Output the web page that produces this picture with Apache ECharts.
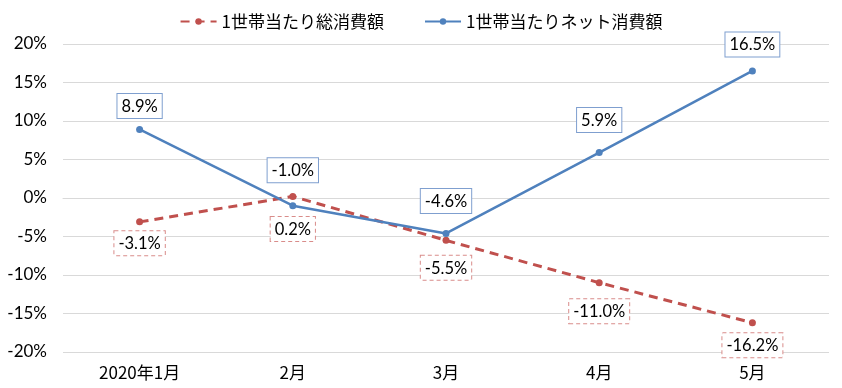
<!DOCTYPE html>
<html><head><meta charset="utf-8">
<script src="https://cdn.jsdelivr.net/npm/echarts@6/dist/echarts.min.js"></script>
<style>html,body{margin:0;padding:0;background:#fff}#c{width:842px;height:388px}</style>
</head><body><div id="c"></div>
<script>
const categories = ['2020年1月', '2月', '3月', '4月', '5月'];
const seriesNames = ['1世帯当たり総消費額', '1世帯当たりネット消費額'];
const totalValues = [-3.1, 0.2, -5.5, -11.0, -16.2];
const netValues = [8.9, -1.0, -4.6, 5.9, 16.5];
const totalLabelDist = [6, 17, 12, 13, 7];
const netLabelDist = [8, 20, 17, 17, 11];

const labelFont = 'Lato, "Liberation Sans", sans-serif';
function mk(vals, dists, pos, border, dashed) {
  return vals.map((v, i) => ({
    value: v,
    label: {
      show: true, position: pos, distance: dists[i],
      formatter: p => p.value.toFixed(1) + '%',
      color: '#000', fontSize: 16.5, fontFamily: labelFont,
      backgroundColor: '#fff', borderColor: border, borderWidth: 1,
      borderType: dashed ? [4, 3] : 'solid',
      padding: [4, 4, 3, 4]
    }
  }));
}
const chart = echarts.init(document.getElementById('c'));
chart.setOption({
  animation: false,
  backgroundColor: '#fff',
  legend: {
    top: 8, left: 'center', itemWidth: 36, itemHeight: 8, itemGap: 40,
    textStyle: { fontSize: 17, color: '#000', fontFamily: '"Noto Sans CJK JP", sans-serif' },
    data: seriesNames
  },
  grid: { left: 63, right: 13, top: 44, bottom: 36, containLabel: false },
  xAxis: {
    type: 'category', data: categories, boundaryGap: true,
    axisLine: { show: true, lineStyle: { color: '#D9D9D9' } },
    axisTick: { show: false },
    axisLabel: { fontSize: 17, color: '#000', margin: 12, fontFamily: '"Noto Sans CJK JP", sans-serif' }
  },
  yAxis: {
    type: 'value', min: -20, max: 20, interval: 5,
    axisLine: { show: false }, axisTick: { show: false },
    axisLabel: { formatter: v => v + '%', fontSize: 17, color: '#000', margin: 16, fontFamily: labelFont },
    splitLine: { lineStyle: { color: '#D9D9D9', width: 1 } }
  },
  series: [
    {
      name: seriesNames[0], type: 'line', data: mk(totalValues, totalLabelDist, 'bottom', '#D98C8A', true),
      color: '#C0504D', symbol: 'circle', symbolSize: 7,
      lineStyle: { color: '#C0504D', width: 3, type: [9, 6] },
      itemStyle: { color: '#C0504D' }, z: 2
    },
    {
      name: seriesNames[1], type: 'line', data: mk(netValues, netLabelDist, 'top', '#7F9FCF', false),
      color: '#4F81BD', symbol: 'circle', symbolSize: 7,
      lineStyle: { color: '#4F81BD', width: 2.5 },
      itemStyle: { color: '#4F81BD' }, z: 3
    }
  ]
});
</script></body></html>
